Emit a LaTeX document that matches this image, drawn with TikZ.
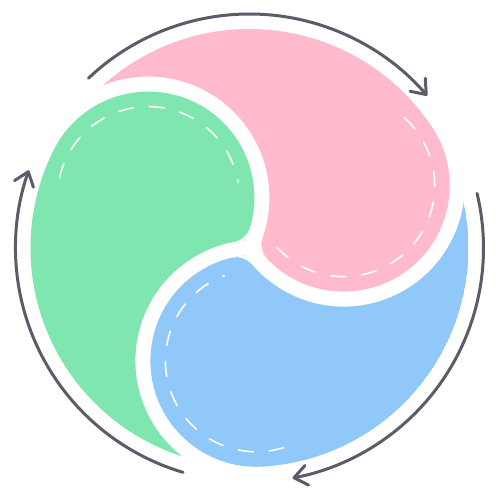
\documentclass[tikz,border=0pt]{standalone}
\usetikzlibrary{calc,arrows.meta}
\definecolor{cpink}{HTML}{FFBBCC}
\definecolor{cgreen}{HTML}{7EE6AE}
\definecolor{cblue}{HTML}{90C8FA}
\definecolor{carrow}{HTML}{5A5C69}
\tikzset{
  dashline/.style={draw=white, line width=1.6pt, line cap=round, dash pattern=on 15pt off 16pt},
  cycleline/.style={draw=carrow, line width=3pt, line cap=round, -{Straight Barb[length=13pt,width=20pt,round]}}
}
\newcommand{\Rout}{219}
\newcommand{\Dist}{113}
\newcommand{\Rhead}{106}
\newcommand{\Rgap}{121}
\newcommand{\Rdash}{91}
\newcommand{\Rarr}{234}
% rounds the sharp inner corner of a comma head (argument: rotation offset)
\newcommand{\RoundCorner}[1]{%
  \fill[white] ($(O)+(33.5+#1:\Dist pt)+(223.41+#1:\Rhead pt)$)
    arc[start angle=223.41+#1, end angle=216.24+#1, radius=\Rhead pt]
    arc[start angle=-24.78+#1, end angle=-19.53+#1, radius=\Rgap pt]
    arc[start angle=160.46+#1, end angle=223.42+#1, radius=20pt] -- cycle;}
\begin{document}
\begin{tikzpicture}[x=1pt,y=1pt]
\useasboundingbox (0,0) rectangle (500,500);
\coordinate (O) at (249.5,252);
\coordinate (P) at ($(O)+(33.5:\Dist pt)$);
\coordinate (G) at ($(O)+(153.5:\Dist pt)$);
\coordinate (B) at ($(O)+(273.5:\Dist pt)$);
% pink comma
\begin{scope}
  \clip (0,0) -- (0,500) -- (500,500) -- (500,0) -- cycle
        ([xshift=\Rgap pt]G) arc[start angle=0, end angle=360, radius=\Rgap pt];
  \clip (O) circle[radius=\Rout pt];
  \fill[cpink] (O) -- ($(O)+(33.5:\Rout pt)$) arc[start angle=33.5, end angle=153.5, radius=\Rout pt] -- cycle
               (P) circle[radius=\Rhead pt];
\end{scope}
% green comma
\begin{scope}
  \clip (0,0) -- (0,500) -- (500,500) -- (500,0) -- cycle
        ([xshift=\Rgap pt]B) arc[start angle=0, end angle=360, radius=\Rgap pt];
  \clip (O) circle[radius=\Rout pt];
  \fill[cgreen] (O) -- ($(O)+(153.5:\Rout pt)$) arc[start angle=153.5, end angle=273.5, radius=\Rout pt] -- cycle
                (G) circle[radius=\Rhead pt];
\end{scope}
% blue comma
\begin{scope}
  \clip (0,0) -- (0,500) -- (500,500) -- (500,0) -- cycle
        ([xshift=\Rgap pt]P) arc[start angle=0, end angle=360, radius=\Rgap pt];
  \clip (O) circle[radius=\Rout pt];
  \fill[cblue] (O) -- ($(O)+(273.5:\Rout pt)$) arc[start angle=273.5, end angle=393.5, radius=\Rout pt] -- cycle
               (B) circle[radius=\Rhead pt];
\end{scope}
% soften the inner corners
\RoundCorner{0}
\RoundCorner{120}
\RoundCorner{240}
% dashed stitching
\draw[dashline] ($(P)+(48:\Rdash pt)$) arc[start angle=48, end angle=-138, radius=\Rdash pt];
\draw[dashline] ($(G)+(167.5:\Rdash pt)$) arc[start angle=167.5, end angle=9.7, radius=\Rdash pt];
\draw[dashline] ($(B)+(287.5:\Rdash pt)$) arc[start angle=287.5, end angle=110.6, radius=\Rdash pt];
% cycle arrows
\coordinate (A1s) at ($(O)+(133.5:\Rarr pt)$);
\coordinate (A2s) at ($(O)+(13.5:\Rarr pt)$);
\coordinate (A3s) at ($(O)+(-106.5:\Rarr pt)$);
\draw[cycleline] (A1s) arc[start angle=133.5, end angle=40.6, radius=\Rarr pt];
\draw[cycleline] (A2s) arc[start angle=13.5, end angle=-79.4, radius=\Rarr pt];
\draw[cycleline] (A3s) arc[start angle=-106.5, end angle=-199.4, radius=\Rarr pt];
\end{tikzpicture}
\end{document}
